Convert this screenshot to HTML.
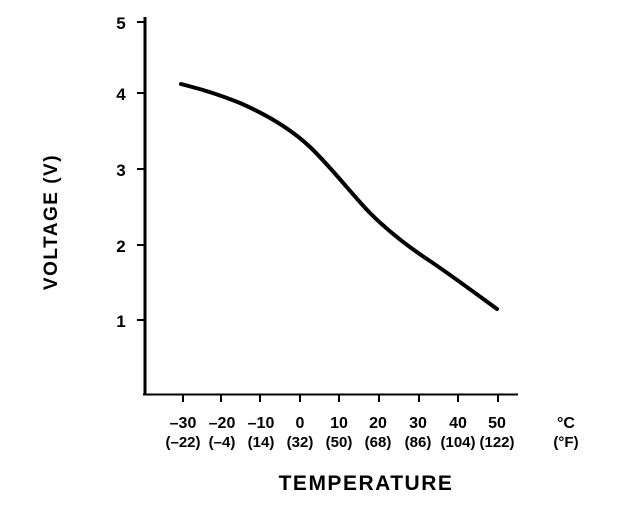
<!DOCTYPE html>
<html><head><style>body{margin:0;background:#fff}svg{display:block}text{font-family:"Liberation Sans",sans-serif;font-weight:bold;fill:#000}</style></head><body>
<svg width="640" height="524" viewBox="0 0 640 524">
<line x1="145" y1="17" x2="145" y2="395" stroke="#000" stroke-width="3"/>
<line x1="143" y1="394.5" x2="518" y2="394.5" stroke="#000" stroke-width="2"/>
<g stroke="#000" stroke-width="2">
<line x1="137" y1="22" x2="145" y2="22"/><line x1="137" y1="93" x2="145" y2="93"/><line x1="137" y1="169" x2="145" y2="169"/><line x1="137" y1="245" x2="145" y2="245"/><line x1="137" y1="320" x2="145" y2="320"/>
<line x1="183" y1="395" x2="183" y2="402"/><line x1="221" y1="395" x2="221" y2="402"/><line x1="260" y1="395" x2="260" y2="402"/><line x1="300" y1="395" x2="300" y2="402"/><line x1="339" y1="395" x2="339" y2="402"/><line x1="379" y1="395" x2="379" y2="402"/><line x1="419" y1="395" x2="419" y2="402"/><line x1="458" y1="395" x2="458" y2="402"/><line x1="498" y1="395" x2="498" y2="402"/>
</g>
<g font-size="17" text-anchor="middle">
<text x="121" y="29">5</text><text x="121" y="100">4</text><text x="121" y="176">3</text><text x="121" y="252">2</text><text x="121" y="327">1</text>
</g>
<g font-size="16" text-anchor="middle">
<text x="183" y="428">–30</text><text x="222" y="428">–20</text><text x="261" y="428">–10</text><text x="300" y="428">0</text><text x="339" y="428">10</text><text x="378" y="428">20</text><text x="418" y="428">30</text><text x="458" y="428">40</text><text x="497" y="428">50</text><text x="566" y="428">°C</text>
</g>
<g font-size="15" text-anchor="middle">
<text x="183" y="447">(–22)</text><text x="222" y="447">(–4)</text><text x="261" y="447">(14)</text><text x="300" y="447">(32)</text><text x="339" y="447">(50)</text><text x="378" y="447">(68)</text><text x="418" y="447">(86)</text><text x="458" y="447">(104)</text><text x="497" y="447">(122)</text><text x="566" y="447">(°F)</text>
</g>
<text x="366" y="490" font-size="21" letter-spacing="1.5" text-anchor="middle">TEMPERATURE</text>
<text transform="translate(57,222) rotate(-90)" font-size="19" letter-spacing="1.5" text-anchor="middle">VOLTAGE (V)</text>
<path d="M181,84 C200,89 215,93 240,103 C265,114 290,128 310,147 C330,166 350,192 370,213 C390,233 410,248 430,261 C455,278 475,293 497,309" fill="none" stroke="#000" stroke-width="4" stroke-linecap="round"/>
</svg>
</body></html>
